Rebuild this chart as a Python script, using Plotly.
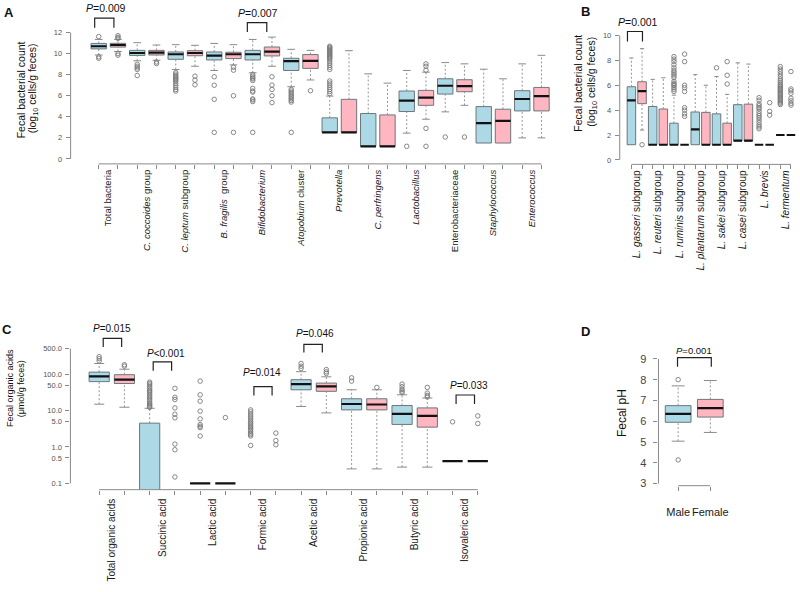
import math
import plotly.graph_objects as go

W, H = 800, 592
FONT = "Liberation Sans, Arial, Helvetica, sans-serif"
BLUE = "#ADD8E6"
PINK = "#FFB6C1"
EDGE = "#6B777C"
AXC = "#8A8A8A"
WHC = "#8A8A8A"

# ======================= DATA =======================
# Panel A: fecal bacterial count (log10 cells/g feces); blue = male, pink = female
A_labels = ["Total bacteria", "<i>C. coccoides</i> group", "<i>C. leptum</i> subgroup",
            "<i>B. fragilis</i>  group", "<i>Bifidobacterium</i>", "<i>Atopobium</i> cluster",
            "<i>Prevotella</i>", "<i>C. perfringens</i>", "<i>Lactobacillus</i>",
            "Enterobacteriaceae", "<i>Staphylococcus</i>", "<i>Enterococcus</i>"]
A_male_q1 = [10.45, 9.83, 9.46, 9.40, 9.40, 8.40, 2.52, 1.20, 4.50, 6.16, 1.51, 4.56]
A_male_med = [10.70, 10.06, 9.94, 9.81, 9.94, 9.28, 2.52, 1.20, 5.54, 6.95, 3.40, 5.69]
A_male_q3 = [10.97, 10.31, 10.16, 10.16, 10.31, 9.56, 3.90, 4.31, 6.45, 7.61, 4.97, 6.48]
A_male_lo = [9.87, 9.32, 8.49, 8.40, 8.18, 6.86, 2.52, 1.20, 2.45, 4.47, 1.51, 2.00]
A_male_hi = [11.35, 11.04, 10.85, 10.97, 11.35, 10.41, 5.97, 8.08, 8.40, 9.15, 8.52, 9.03]
A_male_out = [
    [11.62, 9.70, 9.56],
    [8.99, 8.80, 8.65, 8.49, 7.92],
    [8.2, 8.05, 7.9, 7.8, 7.7, 7.6, 7.5, 7.4, 7.2, 7.0, 6.8, 6.6, 6.45],
    [7.8, 7.0, 5.66, 2.52],
    [8.0, 7.85, 7.7, 7.6, 7.45, 6.7, 6.45, 6.35, 5.7, 5.6, 5.45, 2.52],
    [6.6, 6.45, 6.3, 6.15, 6.0, 5.85, 5.7, 5.55, 5.4, 2.52],
    [10.7, 10.6, 10.5, 10.4, 10.3, 10.2, 10.1, 10.0, 9.9, 9.8, 9.7, 9.6, 9.5, 9.3,
     9.1, 8.9, 8.7, 8.5, 7.4, 7.2, 7.0, 6.8, 6.6, 6.4, 6.2],
    [],
    [1.20],
    [2.08],
    [],
    [],
]
A_fem_q1 = [10.62, 9.87, 9.80, 9.53, 9.78, 8.60, 2.52, 1.20, 5.09, 6.38, 1.51, 4.56]
A_fem_med = [10.82, 10.09, 10.06, 9.94, 10.19, 9.32, 2.52, 1.20, 5.82, 6.92, 3.62, 5.97]
A_fem_q3 = [10.98, 10.31, 10.28, 10.13, 10.63, 9.91, 5.66, 4.18, 6.51, 7.52, 4.72, 6.79]
A_fem_lo = [10.20, 9.37, 8.80, 8.93, 8.80, 7.50, 2.52, 1.20, 3.77, 5.09, 1.51, 2.00]
A_fem_hi = [11.35, 10.82, 10.79, 10.85, 11.57, 10.31, 10.28, 7.20, 8.24, 9.03, 7.61, 9.84]
A_fem_out = [
    [11.70, 11.55, 11.45, 10.00, 9.85],
    [9.21, 9.06],
    [7.86, 7.48, 7.04],
    [8.71, 8.43, 6.00, 2.52],
    [7.80, 7.01, 6.60, 6.00, 5.35],
    [6.48],
    [],
    [],
    [9.03, 8.80, 8.43, 2.90, 1.20],
    [2.08],
    [],
    [],
]

# Panel B: Lactobacillus subgroups (log10 cells/g feces)
B_labels = ["<i>L. gasseri</i> subgroup", "<i>L. reuteri</i> subgroup", "<i>L. ruminis</i> subgroup",
            "<i>L. plantarum</i> subgroup", "<i>L. sakei</i> subgroup", "<i>L. casei</i> subgroup",
            "<i>L. brevis</i>", "<i>L. fermentum</i>"]
B_male_q1 = [1.22, 1.22, 1.22, 1.22, 1.22, 1.52, 1.22, 2.0]
B_male_med = [4.79, 1.22, 1.22, 2.45, 1.22, 1.55, 1.22, 2.0]
B_male_q3 = [5.88, 4.29, 2.95, 3.85, 3.70, 4.44, 1.22, 2.0]
B_male_lo = [1.22, 1.22, 1.22, 1.22, 1.22, 1.52, 1.22, 2.0]
B_male_hi = [8.19, 6.47, 5.20, 6.85, 6.70, 7.80, 1.22, 2.0]
B_male_out = [
    [],
    [],
    [8.3, 8.1, 7.9, 7.65, 7.4, 7.2, 7.05, 6.9, 6.75, 6.6, 6.3, 6.15, 6.05, 5.95, 5.8, 5.65, 5.5],
    [],
    [7.4],
    [],
    [5.0, 4.8, 4.5, 4.35, 4.2, 4.1, 3.9, 3.7, 3.55, 3.4, 3.2, 3.0, 2.8, 2.65, 2.5],
    [7.5, 7.3, 7.1, 6.9, 6.7, 6.5, 6.35, 6.2, 6.05, 5.95, 5.85, 5.75, 5.65, 5.55, 5.45,
     5.35, 5.25, 5.15, 5.05, 4.95, 4.85, 4.75, 4.65, 4.55, 4.45],
]
B_fem_q1 = [4.52, 1.22, 1.22, 1.22, 1.22, 1.52, 1.22, 2.0]
B_fem_med = [5.53, 1.22, 1.22, 1.22, 1.22, 1.55, 1.22, 2.0]
B_fem_q3 = [6.28, 4.09, 1.22, 3.82, 2.95, 4.48, 1.22, 2.0]
B_fem_lo = [2.40, 1.22, 1.22, 1.22, 1.22, 1.52, 1.22, 2.0]
B_fem_hi = [8.94, 6.60, 1.22, 6.00, 5.27, 7.70, 1.22, 2.0]
B_fem_out = [
    [1.22],
    [],
    [8.5, 7.9, 6.0, 5.8, 5.5, 4.2, 4.0, 3.7, 3.5],
    [],
    [7.9, 6.8, 6.1],
    [],
    [4.6, 3.9, 3.6],
    [7.1, 5.7, 5.55, 5.35, 4.95, 4.75, 4.55, 4.4],
]

# Panel C: fecal organic acids (umol/g feces), log scale; 0 = below detection
C_labels = ["Total organic acids", "Succinic acid", "Lactic acid", "Formic acid",
            "Acetic acid", "Propionic acid", "Butyric acid", "Isovaleric acid"]
C_male_q1 = [62, 0, 0.1, 0, 37, 10.4, 4.15, 0.41]
C_male_med = [86, 0, 0.1, 0, 53, 15.1, 8.1, 0.41]
C_male_q3 = [113, 4.5, 0.1, 0, 70, 21, 13.7, 0.41]
C_male_lo = [14.9, 0, 0.1, 0, 12.9, 0.25, 0.28, 0.41]
C_male_hi = [195, 11.5, 0.1, 0, 116, 37, 27, 0.41]
C_male_out = [
    [300, 265, 230],
    [60, 55, 50, 45, 40, 36, 33, 30, 27, 24, 22, 20, 18, 16, 15, 14, 13, 12.2],
    [64, 27, 18, 9.6, 5.9, 4.1, 3.7, 3.4, 2.0],
    [10.4, 9.2, 8.0, 7.0, 6.2, 5.5, 4.9, 4.4, 4.0, 3.6, 3.3, 3.0, 2.7, 2.4, 2.2, 2.0, 1.1],
    [195, 164, 142],
    [79, 64],
    [53, 45, 38, 34, 31],
    [4.9],
]
C_fem_q1 = [55, 0, 0.1, 0, 33.6, 10.4, 3.5, 0.41]
C_fem_med = [70, 0, 0.1, 0, 46, 14.6, 7.1, 0.41]
C_fem_q3 = [96, 0, 0.1, 0, 56.5, 21, 11.8, 0.41]
C_fem_lo = [12.3, 0, 0.1, 0, 8.6, 0.25, 0.28, 0.41]
C_fem_hi = [136, 0, 0.1, 0, 84, 37, 22, 0.41]
C_fem_out = [
    [180, 165],
    [40.5, 23, 20, 11.8, 7.9, 6.3, 1.2, 0.84, 0.15],
    [6.4],
    [2.4, 1.5, 1.15],
    [133, 115, 104],
    [43],
    [43, 30, 26, 23.5],
    [7.1, 4.4],
]

# Panel D: fecal pH
D_labels = ["Male", "Female"]
D_male_q1, D_male_med, D_male_q3, D_male_lo, D_male_hi = [5.95], [6.35], [6.75], [5.04], [7.70]
D_male_out = [[8.0, 4.14]]
D_fem_q1, D_fem_med, D_fem_q3, D_fem_lo, D_fem_hi = [6.20], [6.63], [7.05], [5.46], [7.96]
D_fem_out = [[]]

A_yticks = [0, 2, 4, 6, 8, 10, 12]
B_yticks = [0, 2, 4, 6, 8, 10]
C_yticks = [0.1, 0.5, 1, 5, 10, 50, 100, 500]
C_yticktext = ["0.1", "0.5", "1.0", "5.0", "10.0", "50.0", "100.0", "500.0"]
D_yticks = [3, 4, 5, 6, 7, 8, 9]

# significance brackets: (x left, x right, leg y, top y, text x, text y, text)
A_brackets = [(0.79, 1.79, 12.45, 13.37, 1.40, 14.34, "<i>P</i>=0.009"),
              (8.72, 9.73, 12.05, 12.95, 9.25, 13.84, "<i>P</i>=0.007")]
B_brackets = [(0.63, 2.04, 9.52, 10.32, 1.64, 11.12, "<i>P</i>=0.001")]
C_brackets = [(1.16, 1.89, 555, 951, 1.49, 1750, "<i>P</i>=0.015"),
              (3.14, 3.87, 123, 216, 3.65, 371, "<i>P</i>&lt;0.001"),
              (7.13, 7.85, 25.6, 45.1, 7.44, 110.7, "<i>P</i>=0.014"),
              (9.11, 9.84, 388, 653, 9.54, 1276, "<i>P</i>=0.046"),
              (15.14, 15.87, 15.1, 26.6, 15.65, 49.9, "<i>P</i>=0.033")]
D_brackets = [(0.98, 2.03, 8.62, 9.06, 1.50, 9.38, "<i>P</i>=0.001")]

# ======================= FIGURE =======================
fig = go.Figure()


def floor(v, log):
    return max(v, 1e-3) if log else v


def add_panel(k, male, female, log=False):
    xa = "x" if k == 1 else f"x{k}"
    ya = "y" if k == 1 else f"y{k}"
    wx, wy, cx, cy, ox, oy = [], [], [], [], [], []
    n = len(male[1])
    for g in range(n):
        for s, (st, col) in enumerate([(male, BLUE), (female, PINK)]):
            p = 2 * g + 1 + s
            q1, med, q3, lo, hi = [floor(st[i][g], log) for i in range(5)]
            if q3 > q1:
                fig.add_trace(go.Scatter(
                    x=[p - .4, p + .4, p + .4, p - .4, p - .4], y=[q1, q1, q3, q3, q1],
                    mode="lines", fill="toself", fillcolor=col,
                    line=dict(color=EDGE, width=1), xaxis=xa, yaxis=ya,
                    hoverinfo="skip", showlegend=False))
            fig.add_trace(go.Scatter(
                x=[p - .4, p + .4], y=[med, med], mode="lines",
                line=dict(color="#111111", width=2.2), xaxis=xa, yaxis=ya,
                hoverinfo="skip", showlegend=False))
            if hi > q3:
                wx += [p, p, None]; wy += [q3, hi, None]
                cx += [p - .2, p + .2, None]; cy += [hi, hi, None]
            if lo < q1:
                wx += [p, p, None]; wy += [lo, q1, None]
                cx += [p - .2, p + .2, None]; cy += [lo, lo, None]
            for v in st[5][g]:
                ox.append(p); oy.append(v)
    fig.add_trace(go.Scatter(x=wx, y=wy, mode="lines", line=dict(color=WHC, width=0.9, dash="2px,2px"),
                             xaxis=xa, yaxis=ya, hoverinfo="skip", showlegend=False))
    fig.add_trace(go.Scatter(x=cx, y=cy, mode="lines", line=dict(color=WHC, width=1),
                             xaxis=xa, yaxis=ya, hoverinfo="skip", showlegend=False))
    fig.add_trace(go.Scatter(x=ox, y=oy, mode="markers",
                             marker=dict(symbol="circle-open", size=4.5, color="#7A7A7A",
                                         line=dict(width=0.9)),
                             xaxis=xa, yaxis=ya, hoverinfo="skip", showlegend=False))


def add_brackets(k, brackets, fsize, log=False):
    xa = "x" if k == 1 else f"x{k}"
    ya = "y" if k == 1 else f"y{k}"
    for (x0, x1, yl, yt, tx, ty, txt) in brackets:
        fig.add_trace(go.Scatter(x=[x0, x0, x1, x1], y=[yl, yt, yt, yl], mode="lines",
                                 line=dict(color="#222222", width=1.2), xaxis=xa, yaxis=ya,
                                 hoverinfo="skip", showlegend=False))
        fig.add_annotation(x=tx, y=math.log10(ty) if log else ty, xref=xa, yref=ya, text=txt,
                           showarrow=False, xanchor="center", yanchor="middle",
                           font=dict(size=fsize, color="#111111", family=FONT))


add_panel(1, (A_male_q1, A_male_med, A_male_q3, A_male_lo, A_male_hi, A_male_out),
          (A_fem_q1, A_fem_med, A_fem_q3, A_fem_lo, A_fem_hi, A_fem_out))
add_panel(2, (B_male_q1, B_male_med, B_male_q3, B_male_lo, B_male_hi, B_male_out),
          (B_fem_q1, B_fem_med, B_fem_q3, B_fem_lo, B_fem_hi, B_fem_out))
add_panel(3, (C_male_q1, C_male_med, C_male_q3, C_male_lo, C_male_hi, C_male_out),
          (C_fem_q1, C_fem_med, C_fem_q3, C_fem_lo, C_fem_hi, C_fem_out), log=True)
add_panel(4, (D_male_q1, D_male_med, D_male_q3, D_male_lo, D_male_hi, D_male_out),
          (D_fem_q1, D_fem_med, D_fem_q3, D_fem_lo, D_fem_hi, D_fem_out))

add_brackets(1, A_brackets, 10.5)
add_brackets(2, B_brackets, 10.5)
add_brackets(3, C_brackets, 10, log=True)
add_brackets(4, D_brackets, 9.5)


def xd(a, b):
    return [a / W, b / W]


def yd(top, bottom):
    return [1 - bottom / H, 1 - top / H]


def xaxis_cfg(dom, rng, anchor, labels, nbox, size, standoff, angle=-90, paired=True):
    if paired:
        tv = [2 * i + 1.5 for i in range(len(labels))]
    else:
        tv = list(range(1, len(labels) + 1))
    cfg = dict(domain=dom, range=rng, anchor=anchor, showgrid=False, zeroline=False,
               showline=False, tickmode="array", tickvals=tv, ticktext=labels,
               tickangle=angle, ticks="" if paired else "outside", ticklen=4,
               tickcolor=AXC, ticklabelstandoff=standoff,
               tickfont=dict(size=size, color="#1a1a1a", family=FONT))
    if paired:
        cfg["minor"] = dict(tickmode="array", tickvals=list(range(1, nbox + 1)),
                            ticks="outside", ticklen=4, tickcolor=AXC, tickwidth=1,
                            showgrid=False)
    return cfg


def yaxis_cfg(dom, rng, anchor, tv, tt, size, color, typ="linear", standoff=2, ticklen=4):
    return dict(domain=dom, range=rng, anchor=anchor, type=typ, showgrid=False,
                zeroline=False, showline=False, tickmode="array", tickvals=tv, ticktext=tt,
                ticks="outside", ticklen=ticklen, tickcolor=AXC, ticklabelstandoff=standoff,
                tickfont=dict(size=size, color=color, family=FONT))


A_yr = [(160 - 165) / 10.6, (160 - 2) / 10.6]
B_yr = [(161 - 165.5) / 12.53, (161 - 2) / 12.53]
C_yr = [(450 - 493) / 36.7, (450 - 318) / 36.7]
D_yr = [9 - (489 - 361.3) / 20.93, 9 + (361.3 - 345) / 20.93]

fig.update_layout(
    width=W, height=H, margin=dict(l=0, r=0, t=0, b=0),
    paper_bgcolor="white", plot_bgcolor="rgba(0,0,0,0)", showlegend=False,
    font=dict(family=FONT),
    xaxis=xaxis_cfg(xd(70.7, 570.3), [-0.46, 25.46], "y", A_labels, 24, 9.5, 3),
    yaxis=yaxis_cfg(yd(2, 165), A_yr, "x", A_yticks, [str(v) for v in A_yticks], 7.5, "#555555"),
    xaxis2=xaxis_cfg(xd(620.5, 800), [1 - (632.2 - 620.5) / 10.65, 1 + (800 - 632.2) / 10.65],
                     "y2", B_labels, 16, 10, 3),
    yaxis2=yaxis_cfg(yd(2, 165.5), B_yr, "x2", B_yticks, [str(v) for v in B_yticks], 7.5, "#555555"),
    xaxis3=xaxis_cfg(xd(70.5, 507.2), [-0.14, 17.14], "y3", C_labels, 16, 10, 6),
    yaxis3=yaxis_cfg(yd(318, 493), C_yr, "x3", C_yticks, C_yticktext, 7.5, "#555555", typ="log"),
    xaxis4=xaxis_cfg(xd(659.3, 728.6), [0.388, 2.54], "y4", D_labels, 2, 11, 12, angle=0,
                     paired=False),
    yaxis4=yaxis_cfg(yd(345, 489), D_yr, "x4", D_yticks, [str(v) for v in D_yticks], 11, "#444444",
                     standoff=5),
)


# axis lines (R style: spanning first to last tick)
def axis_lines(k, xticks, yticks, log=False, yr=None):
    xa = "x" if k == 1 else f"x{k}"
    ya = "y" if k == 1 else f"y{k}"
    if log:
        f0 = (math.log10(yticks[0]) - yr[0]) / (yr[1] - yr[0])
        f1 = (math.log10(yticks[-1]) - yr[0]) / (yr[1] - yr[0])
        fig.add_shape(type="line", xref=f"{xa} domain", yref=f"{ya} domain", x0=0, x1=0,
                      y0=f0, y1=f1, line=dict(color=AXC, width=1))
    else:
        fig.add_shape(type="line", xref=f"{xa} domain", yref=ya, x0=0, x1=0,
                      y0=yticks[0], y1=yticks[-1], line=dict(color=AXC, width=1))
    fig.add_shape(type="line", xref=xa, yref=f"{ya} domain", x0=xticks[0], x1=xticks[-1],
                  y0=0, y1=0, line=dict(color=AXC, width=1))


axis_lines(1, [1, 24], A_yticks)
axis_lines(2, [1, 16], B_yticks)
axis_lines(3, [1, 16], C_yticks, log=True, yr=C_yr)
axis_lines(4, [1, 2], D_yticks)


def ann(x, y, text, size, angle=0, bold=False, color="#111111"):
    fig.add_annotation(x=x / W, y=1 - y / H, xref="paper", yref="paper",
                       text=f"<b>{text}</b>" if bold else text, showarrow=False,
                       textangle=angle, xanchor="center", yanchor="middle",
                       font=dict(size=size, color=color, family=FONT))


# panel letters
ann(9, 13, "A", 13, bold=True)
ann(586, 11.5, "B", 13, bold=True)
ann(7, 332, "C", 13, bold=True)
ann(586, 334, "D", 13, bold=True)

# y-axis titles
ann(21, 90, "Fecal bacterial count", 10.5, angle=-90)
ann(33, 89, "(log<sub>10</sub> cells/g feces)", 10.5, angle=-90)
ann(579, 84, "Fecal bacterial count", 10.5, angle=-90)
ann(593, 82, "(log<sub>10</sub> cells/g feces)", 10.5, angle=-90)
ann(10.7, 391, "Fecal organic acids", 9, angle=-90)
ann(21, 391, "(μmol/g feces)", 9, angle=-90)
ann(622.7, 416, "Fecal pH", 12, angle=-90)

fig.write_html("out.html", config={"displayModeBar": False, "staticPlot": True},
               post_script="document.body.style.margin='0';document.body.style.padding='0';")
